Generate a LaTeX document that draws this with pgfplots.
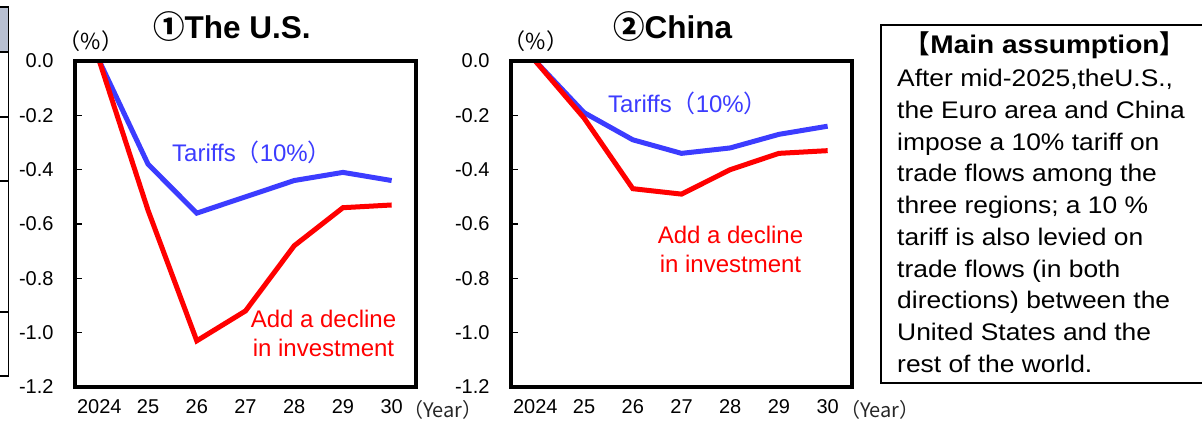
\documentclass[border=0pt]{standalone}
\usepackage{fontspec}
\setmainfont{Liberation Sans}
\newfontfamily\cjk{Noto Sans CJK JP}
\newfontfamily\boxfont[FakeStretch=1.1]{Liberation Sans}
\usepackage{pgfplots}
\pgfplotsset{compat=1.18}

\definecolor{tarblue}{RGB}{60,60,255}
\definecolor{invred}{RGB}{255,0,0}
\definecolor{tabgray}{RGB}{184,192,210}

\pgfplotsset{
  panel/.style={
    scale only axis, width=341pt, height=326pt, anchor=south west,
    xmin=2023.5, xmax=2030.5, ymin=-1.2, ymax=0,
    xtick={2024,2025,2026,2027,2028,2029,2030},
    xticklabels={2024,25,26,27,28,29,30},
    ytick={-1.2,-1.0,-0.8,-0.6,-0.4,-0.2,0},
    yticklabel={\pgfmathprintnumber[fixed,fixed zerofill,precision=1]{\tick}},
    /pgf/number format/assume math mode=true,
    ticklabel style={font=\fontsize{20}{24}\selectfont, text=black},
    yticklabel style={xshift=-18pt},
    xticklabel style={yshift=-9pt},
    axis line style={line width=4.6pt, black},
    ytick pos=left, tick align=inside,
    major tick length=7pt,
    ytick style={line width=1.2pt, black},
    xtick style={draw=none},
    clip=true,
    % heavy black frame drawn over the plot area
    after end axis/.code={
      \draw[line width=4.6pt, black, line join=miter]
        (rel axis cs:0,0) rectangle (rel axis cs:1,1);
    },
  },
  series/.style={line width=5pt},
}

\begin{document}
\begin{tikzpicture}[x=1pt, y=1pt]
\path[use as bounding box] (0,0) rectangle (1202,421);
\clip (0,0) rectangle (1202,421);

% edge of the neighbouring table
\fill[tabgray] (-2,369) rectangle (8.3,414);
\draw[line width=1.3pt] (8.3,414) -- (8.3,45);
\foreach \yy in {414,369,304,240,109,45}
  \draw[line width=1.3pt] (-2,\yy) -- (9,\yy);

% (1) United States
\begin{axis}[panel, at={(75pt,34pt)}]
\addplot[series, tarblue] coordinates {
  (2024,0) (2025,-0.38) (2026,-0.56) (2027,-0.50) (2028,-0.44) (2029,-0.41) (2030,-0.44)};
\addplot[series, invred] coordinates {
  (2024,0) (2025,-0.55) (2026,-1.03) (2027,-0.92) (2028,-0.68) (2029,-0.54) (2030,-0.53)};
\end{axis}

% (2) China
\begin{axis}[panel, at={(511pt,34pt)}]
\addplot[series, tarblue] coordinates {
  (2024,0) (2025,-0.19) (2026,-0.29) (2027,-0.34) (2028,-0.32) (2029,-0.27) (2030,-0.24)};
\addplot[series, invred] coordinates {
  (2024,0) (2025,-0.21) (2026,-0.47) (2027,-0.49) (2028,-0.40) (2029,-0.34) (2030,-0.33)};
\end{axis}

% panel titles
\node[anchor=base west, inner sep=0, font=\fontsize{31.5}{36}\selectfont\bfseries]
  at (153,382) {{\cjk\bfseries ①}The U.S.};
\node[anchor=base west, inner sep=0, font=\fontsize{31.5}{36}\selectfont\bfseries]
  at (613,382) {{\cjk\bfseries ②}China};

% unit and year labels
\node[inner sep=0, font=\fontsize{22}{26}\selectfont\cjk] at (91,380) {（\%）};
\node[inner sep=0, font=\fontsize{22}{26}\selectfont\cjk] at (536,380) {（\%）};
\node[anchor=west, inner sep=0, font=\fontsize{20}{24}\selectfont\cjk, text=black!85]
  at (403,11) {（Year）};
\node[anchor=west, inner sep=0, font=\fontsize{20}{24}\selectfont\cjk, text=black!85]
  at (840,11) {（Year）};

% series labels
\node[anchor=west, inner sep=0, text=tarblue, font=\fontsize{24}{28}\selectfont]
  at (172,269) {Tariffs{\cjk（}10\%{\cjk）}};
\node[anchor=west, inner sep=0, text=tarblue, font=\fontsize{24}{28}\selectfont]
  at (608,318) {Tariffs{\cjk（}10\%{\cjk）}};
\node[align=center, inner sep=0, text=invred, font=\fontsize{24}{29}\selectfont]
  at (323.5,87.5) {Add a decline\\in investment};
\node[align=center, inner sep=0, text=invred, font=\fontsize{24}{29}\selectfont]
  at (730.5,172) {Add a decline\\in investment};

% assumption box
\draw[line width=1.3pt] (881,38) rectangle (1240,396);
\node[inner sep=0, font=\fontsize{25.5}{30}\selectfont\boxfont\bfseries]
  at (1045,376) {{\cjk\bfseries 【}Main assumption{\cjk\bfseries 】}};
\begin{scope}[every node/.style={anchor=base west, inner sep=0,
    font=\fontsize{24}{30}\selectfont\boxfont}]
\node at (897,334.0) {After mid-2025,theU.S.,};
\node at (897,302.3) {the Euro area and China};
\node at (897,270.7) {impose a 10\% tariff on};
\node at (897,239.0) {trade flows among the};
\node at (897,207.3) {three regions; a 10 \%};
\node at (897,175.7) {tariff is also levied on};
\node at (897,144.0) {trade flows (in both};
\node at (897,112.3) {directions) between the};
\node at (897,80.7) {United States and the};
\node at (897,49.0) {rest of the world.};
\end{scope}
\end{tikzpicture}
\end{document}
